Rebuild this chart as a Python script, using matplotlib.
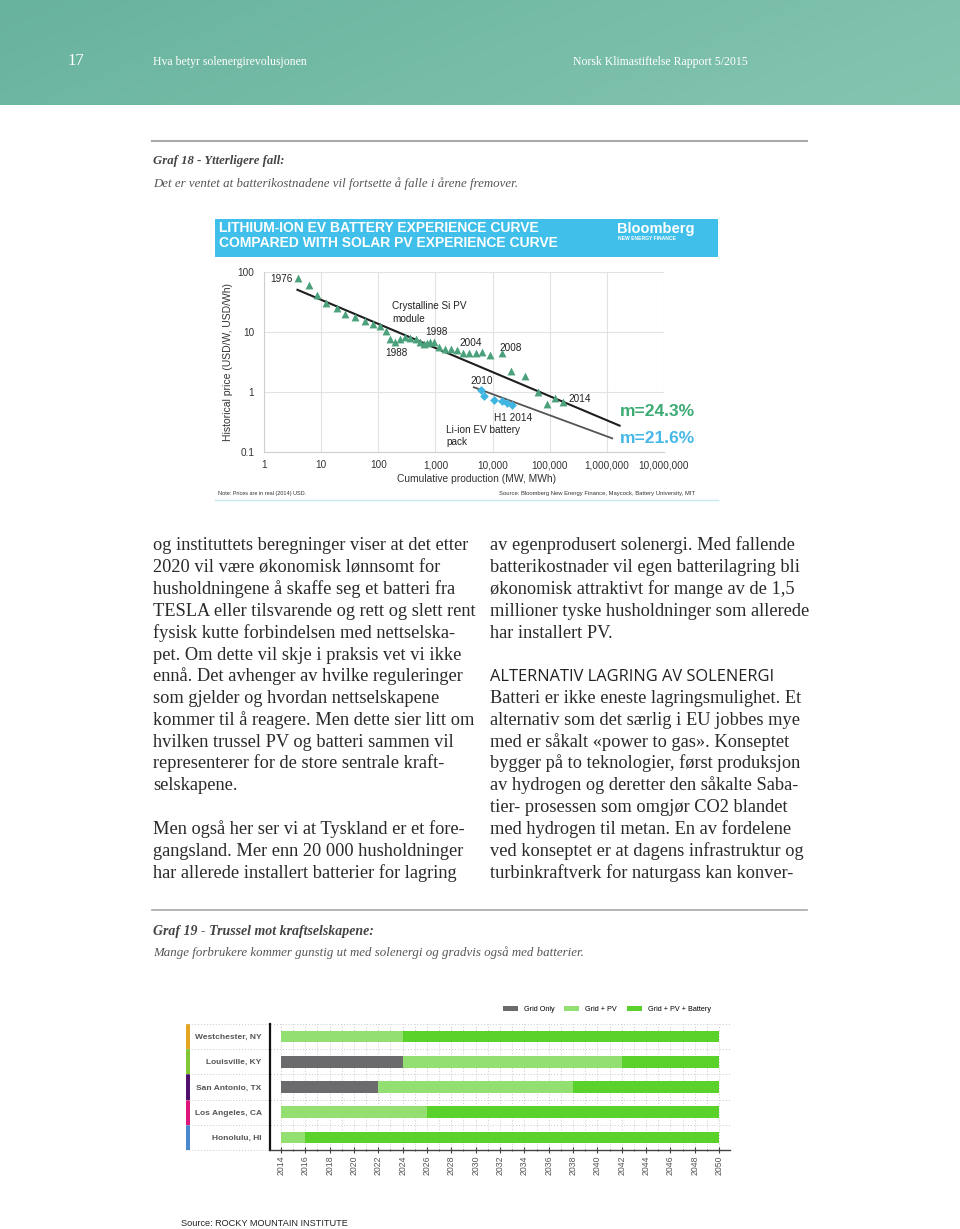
import numpy as np
import matplotlib
matplotlib.use('Agg')
import matplotlib.pyplot as plt
from matplotlib.patches import Rectangle
from matplotlib.colors import LinearSegmentedColormap
from matplotlib.transforms import blended_transform_factory

W, H = 960, 1229

# ---------------- Graf 18: erfaringskurver (Bloomberg NEF) ----------------
pv_cum_mw = [3.9, 6.2, 8.6, 12.3, 18.9, 26.5, 38.5, 58, 80, 107,
             134, 160, 193, 240, 293, 363, 450, 536, 621, 700,
             800, 933, 1150, 1470, 1890, 2350, 3020, 3860, 5180, 6440,
             8980, 14400, 20700, 36300, 62100, 90400, 126000, 172000]
pv_price = [80, 60, 42, 30.5, 25, 20, 18, 15, 13.5, 12.5,
            10.2, 7.7, 6.9, 7.7, 8.1, 7.8, 7.5, 6.8, 6.2, 6.6,
            6.7, 6.8, 5.6, 5.3, 5.3, 5.0, 4.4, 4.4, 4.5, 4.6,
            4.2, 4.4, 2.2, 1.88, 0.99, 0.63, 0.78, 0.68]
li_cum_mwh = [6170, 7150, 10500, 14400, 18100, 22100]
li_price = [1.09, 0.86, 0.74, 0.70, 0.65, 0.61]

pv_fit_x = [3.85, 1.67e6]
pv_fit_y = [50.5, 0.275]
li_fit_x = [4700, 1.24e6]
li_fit_y = [1.2, 0.169]

x_ticks = [1, 10, 100, 1e3, 1e4, 1e5, 1e6, 1e7]
x_tick_labels = ['1', '10', '100', '1,000', '10,000', '100,000', '1,000,000', '10,000,000']
y_ticks = [0.1, 1, 10, 100]
y_tick_labels = ['0.1', '1', '10', '100']

# ---------------- Graf 19: Rocky Mountain Institute ----------------
cities = ['Westchester, NY', 'Louisville, KY', 'San Antonio, TX', 'Los Angeles, CA', 'Honolulu, HI']
start_year = [2014, 2014, 2014, 2014, 2014]
grid_only_end = [2014, 2024, 2022, 2014, 2014]
grid_pv_end = [2024, 2042, 2038, 2026, 2016]
end_year = [2050, 2050, 2050, 2050, 2050]
city_colors = ['#e6a521', '#82c836', '#4f0f6a', '#e0157c', '#4a88cc']
year_ticks = list(range(2014, 2051, 2))

c_grid, c_pv, c_batt = '#6b6b6e', '#93df72', '#5bd12b'

SERIF = 'Liberation Serif'
SANS = 'Liberation Sans'
TXT = '#2a2a2a'
BODY = 13.2

left_col = [
    'og instituttets beregninger viser at det etter',
    '2020 vil være økonomisk lønnsomt for',
    'husholdningene å skaffe seg et batteri fra',
    'TESLA eller tilsvarende og rett og slett rent',
    'fysisk kutte forbindelsen med nettselska-',
    'pet. Om dette vil skje i praksis vet vi ikke',
    'ennå. Det avhenger av hvilke reguleringer',
    'som gjelder og hvordan nettselskapene',
    'kommer til å reagere. Men dette sier litt om',
    'hvilken trussel PV og batteri sammen vil',
    'representerer for de store sentrale kraft-',
    'selskapene.',
    '',
    'Men også her ser vi at Tyskland er et fore-',
    'gangsland. Mer enn 20 000 husholdninger',
    'har allerede installert batterier for lagring',
]
right_col = [
    'av egenprodusert solenergi. Med fallende',
    'batterikostnader vil egen batterilagring bli',
    'økonomisk attraktivt for mange av de 1,5',
    'millioner tyske husholdninger som allerede',
    'har installert PV.',
    '',
    None,  # mellomtittel
    'Batteri er ikke eneste lagringsmulighet. Et',
    'alternativ som det særlig i EU jobbes mye',
    'med er såkalt «power to gas». Konseptet',
    'bygger på to teknologier, først produksjon',
    'av hydrogen og deretter den såkalte Saba-',
    'tier- prosessen som omgjør CO2 blandet',
    'med hydrogen til metan. En av fordelene',
    'ved konseptet er at dagens infrastruktur og',
    'turbinkraftverk for naturgass kan konver-',
]

fig = plt.figure(figsize=(W / 100, H / 100), dpi=100)

# bakgrunn i pikselkoordinater
bg = fig.add_axes([0, 0, 1, 1])
grad = np.linspace(0, 1, 200)[None, :] + np.linspace(0, 0.25, 40)[:, None]
cmap = LinearSegmentedColormap.from_list('teal', ['#68b39e', '#84c5b0'])
bg.imshow(grad, extent=[0, W, 105, 0], aspect='auto', cmap=cmap, vmin=0, vmax=1.25)
bg.set_xlim(0, W)
bg.set_ylim(H, 0)
bg.axis('off')


def px_axes(x0, y0, x1, y1):
    return fig.add_axes([x0 / W, 1 - y1 / H, (x1 - x0) / W, (y1 - y0) / H])


# topptekst
bg.text(67, 61, '17', color='white', fontsize=12, family=SERIF, va='center')
bg.text(153, 62, 'Hva betyr solenergirevolusjonen', color='white', fontsize=8.5, family=SERIF, va='center')
bg.text(573, 62, 'Norsk Klimastiftelse Rapport 5/2015', color='white', fontsize=8.5, family=SERIF, va='center')

# Graf 18 overskrift
bg.plot([152, 807], [141, 141], color='#a8a8a8', lw=1.5)
bg.text(153, 161, 'Graf 18 - Ytterligere fall:', fontsize=9.2, family=SERIF, weight='bold',
        style='italic', color='#444444', va='center')
bg.text(153, 184, 'Det er ventet at batterikostnadene vil fortsette å falle i årene fremover.',
        fontsize=9.3, family=SERIF, style='italic', color='#555555', va='center')

# Bloomberg-banner
bg.add_patch(Rectangle((215, 219), 503, 38, color='#3fbfe9', lw=0))
bg.text(219, 228, 'LITHIUM-ION EV BATTERY EXPERIENCE CURVE', color='white', fontsize=10,
        family=SANS, weight='bold', va='center')
bg.text(219, 243, 'COMPARED WITH SOLAR PV EXPERIENCE CURVE', color='white', fontsize=10,
        family=SANS, weight='bold', va='center')
bg.text(617, 229, 'Bloomberg', color='white', fontsize=10.5, family=SANS, weight='bold', va='center')
bg.text(618, 238.5, 'NEW ENERGY FINANCE', color='white', fontsize=3.6, family=SANS, weight='bold', va='center')
bg.plot([215, 718], [500, 500], color='#c5e8f4', lw=1)

bg.text(228, 362, 'Historical price (USD/W, USD/Wh)', rotation=90, fontsize=7.5, family=SANS,
        color='#333333', ha='center', va='center')
bg.text(477, 479, 'Cumulative production (MW, MWh)', fontsize=7.4, family=SANS,
        color='#333333', ha='center', va='center')
bg.text(218, 494, 'Note: Prices are in real (2014) USD.', fontsize=4.0, family=SANS, color='#333333', va='center')
bg.text(499, 494, 'Source: Bloomberg New Energy Finance, Maycock, Battery University, MIT', fontsize=4.2,
        family=SANS, color='#333333', va='center')

ax = px_axes(264, 272, 664, 452)
ax.set_xscale('log')
ax.set_yscale('log')
ax.set_xlim(1, 1e7)
ax.set_ylim(0.1, 100)
ax.set_xticks(x_ticks, x_tick_labels)
ax.set_yticks(y_ticks, y_tick_labels)
ax.minorticks_off()
ax.tick_params(length=0, labelsize=7.2, labelcolor='#333333')
ax.tick_params(axis='x', pad=6)
ax.tick_params(axis='y', pad=7)
for lbl in ax.get_xticklabels() + ax.get_yticklabels():
    lbl.set_family(SANS)
ax.grid(True, color='#e2e2e2', lw=0.8)
for s in ['top', 'right']:
    ax.spines[s].set_visible(False)
for s in ['left', 'bottom']:
    ax.spines[s].set_color('#cfcfcf')

ax.plot(pv_fit_x, pv_fit_y, color='#1e1e1e', lw=1.5, zorder=3)
ax.plot(li_fit_x, li_fit_y, color='#555555', lw=1.3, zorder=3)
ax.scatter(pv_cum_mw, pv_price, marker='^', s=32, color='#4aa17c', lw=0, zorder=4)
ax.scatter(li_cum_mwh, li_price, marker='D', s=20, color='#3fb6e2', lw=0, zorder=4)

ann = dict(fontsize=7.2, family=SANS, color='#222222', va='center')
ax.text(3.22, 76, '1976', ha='right', **ann)
ax.text(174, 21.1, 'Crystalline Si PV\nmodule', linespacing=1.35, **ann)
ax.text(657, 10, '1998', **ann)
ax.text(2590, 6.56, '2004', **ann)
ax.text(12970, 5.41, '2008', **ann)
ax.text(131, 4.47, '1988', **ann)
ax.text(4030, 1.52, '2010', **ann)
ax.text(209000, 0.764, '2014', **ann)
ax.text(10600, 0.369, 'H1 2014', **ann)
ax.text(1531, 0.185, 'Li-ion EV battery\npack', linespacing=1.35, **ann)
ax.text(1.7e6, 0.482, 'm=24.3%', fontsize=12.5, family=SANS, weight='bold', color='#3cab74', va='center')
ax.text(1.7e6, 0.171, 'm=21.6%', fontsize=12.5, family=SANS, weight='bold', color='#47b8e8', va='center')

# brødtekst
for i, line in enumerate(left_col):
    bg.text(153, 550.5 + i * 21.8, line, fontsize=BODY, family=SERIF, color=TXT, va='baseline')
for i, line in enumerate(right_col):
    y = 550.5 + i * 21.8
    if line is None:
        bg.text(490, y, 'ALTERNATIV LAGRING AV SOLENERGI', fontsize=11.8, family='Open Sans',
                color='#222222', va='baseline')
    else:
        bg.text(490, y, line, fontsize=BODY, family=SERIF, color=TXT, va='baseline')

# Graf 19 overskrift
bg.plot([152, 807], [910, 910], color='#a8a8a8', lw=1.2)
bg.text(153, 931, 'Graf 19 - Trussel mot kraftselskapene:', fontsize=10, family=SERIF, weight='bold',
        style='italic', color='#444444', va='center')
bg.text(153, 953, 'Mange forbrukere kommer gunstig ut med solenergi og gradvis også med batterier.',
        fontsize=9.3, family=SERIF, style='italic', color='#555555', va='center')

# Graf 19: stolpediagram
bx = px_axes(270, 1024, 730, 1150)
ypos = np.arange(len(cities)) + 0.5
bx.barh(ypos, np.subtract(grid_only_end, start_year), left=start_year, height=0.46,
        color=c_grid, label='Grid Only', zorder=3)
bx.barh(ypos, np.subtract(grid_pv_end, grid_only_end), left=grid_only_end, height=0.46,
        color=c_pv, label='Grid + PV', zorder=3)
bx.barh(ypos, np.subtract(end_year, grid_pv_end), left=grid_pv_end, height=0.46,
        color=c_batt, label='Grid + PV + Battery', zorder=3)
bx.set_xlim(2013.1, 2050.9)
bx.set_ylim(len(cities), 0)
bx.set_xticks(year_ticks)
bx.set_xticks(range(2014, 2051), minor=True)
bx.set_yticks(ypos, cities)
bx.tick_params(axis='x', which='major', rotation=90, labelsize=6.3, labelcolor='#555555',
               length=4, direction='inout', pad=2, color='#444444')
bx.tick_params(axis='x', which='minor', length=2, direction='inout', color='#444444')
bx.tick_params(axis='y', length=0, pad=6, labelsize=6.0, labelcolor='#555555')
for lbl in bx.get_yticklabels():
    lbl.set_fontweight('bold')
    lbl.set_family(SANS)
for lbl in bx.get_xticklabels():
    lbl.set_family(SANS)
bx.grid(True, axis='x', which='both', ls=(0, (1, 2)), color='#c9c9c9', lw=0.7)
for s in ['top', 'right']:
    bx.spines[s].set_visible(False)
bx.spines['left'].set_color('#111111')
bx.spines['left'].set_linewidth(1.6)
bx.spines['bottom'].set_color('#444444')
bx.spines['bottom'].set_linewidth(1.0)

tr = blended_transform_factory(bx.transAxes, bx.transData)
x_strip = (186 - 270) / 460
for k in range(len(cities) + 1):
    bx.plot([x_strip, 1], [k, k], transform=tr, ls=(0, (1, 2)), color='#c9c9c9', lw=0.7, clip_on=False)
for k, c in enumerate(city_colors):
    bx.add_patch(Rectangle((x_strip, k), 4 / 460, 1, transform=tr, color=c, lw=0, clip_on=False))

bx.legend(loc='lower right', bbox_to_anchor=((711 - 270) / 460, 1 + 11 / 126), ncol=3, frameon=False,
          handlelength=2.1, handleheight=0.8, handletextpad=0.8, columnspacing=1.4,
          borderaxespad=0, borderpad=0, prop={'family': SANS, 'size': 5.2})

bg.text(181, 1224, 'Source: ROCKY MOUNTAIN INSTITUTE', fontsize=6.6, family=SANS, color='#222222', va='center')

fig.savefig('out.png', dpi=100)
